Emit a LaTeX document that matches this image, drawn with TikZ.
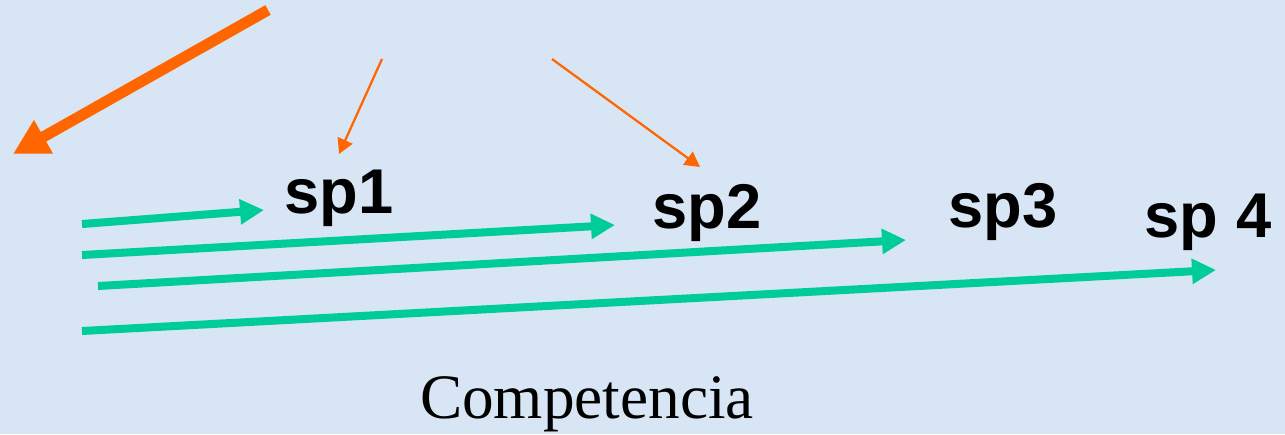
\documentclass[tikz,border=0pt]{standalone}
\usepackage{fontspec}
\setmainfont{Liberation Serif}
\setsansfont{Liberation Sans}
\usetikzlibrary{arrows.meta}
\definecolor{bgblue}{RGB}{216,229,244}
\definecolor{arrorange}{RGB}{255,102,0}
\definecolor{arrgreen}{RGB}{0,204,153}
\tikzset{
  splabel/.style={font=\sffamily\bfseries\fontsize{36}{40}\selectfont, anchor=base, inner sep=0pt},
  greenarrow/.style={arrgreen, line width=0.16cm, -{Triangle[length=0.48cm,width=0.48cm]}},
  thinarrow/.style={arrorange, line width=0.045cm, -{Triangle[length=0.3cm,width=0.32cm]}},
  bigarrow/.style={arrorange, line width=0.22cm, -{Triangle[length=0.7cm,width=0.72cm]}}
}
\begin{document}
\begin{tikzpicture}[x=0.02cm, y=-0.02cm]
  % Background
  \fill[bgblue] (0,0) rectangle (1285,434);
  \useasboundingbox (0,0) rectangle (1285,434);
  % Labels
  \node[splabel] (sp1) at (339,213) {sp1};
  \node[splabel] (sp2) at (707,228) {sp2};
  \node[splabel] (sp3) at (1003,227) {sp3};
  \node[splabel] (sp4) at (1208,237) {sp 4};
  \node[font=\fontsize{36}{40}\selectfont, anchor=base, inner sep=0pt] (comp) at (587,418) {Competencia};
  % Orange arrows
  \coordinate (bigS) at (268,10);
  \coordinate (bigT) at (13,154);
  \draw[bigarrow] (bigS) -- (bigT);
  \coordinate (oneS) at (382,59);
  \coordinate (oneT) at (339,154);
  \draw[thinarrow] (oneS) -- (oneT);
  \coordinate (twoS) at (552,59);
  \coordinate (twoT) at (700,167);
  \draw[thinarrow] (twoS) -- (twoT);
  % Green arrows
  \foreach \i/\sx/\sy/\tx/\ty in {1/82/224/264/210, 2/82/255/615/225, 3/98/286/906/240, 4/82/331/1216/270} {
    \coordinate (g\i s) at (\sx,\sy);
    \coordinate (g\i t) at (\tx,\ty);
    \draw[greenarrow] (g\i s) -- (g\i t);
  }
\end{tikzpicture}
\end{document}
